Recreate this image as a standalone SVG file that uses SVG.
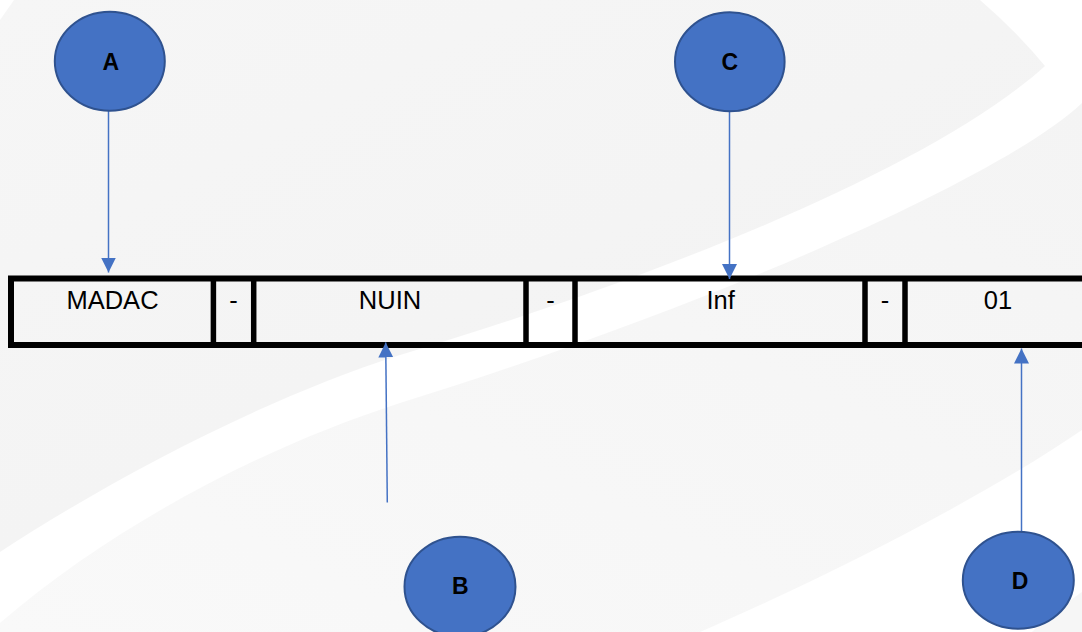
<svg xmlns="http://www.w3.org/2000/svg" width="1082" height="632" viewBox="0 0 1082 632">
  <style>
    .bubble { fill: #4472c4; stroke: #2f528f; stroke-width: 2; }
    .blabel { font-family: "Liberation Sans", Arial, sans-serif; font-weight: bold; font-size: 23px; fill: #000; text-anchor: middle; }
    .cell { font-family: "Liberation Sans", Arial, sans-serif; font-size: 25.5px; fill: #000; text-anchor: middle; }
    .bar { fill: none; stroke: #000; stroke-width: 6; }
    .div { stroke: #000; stroke-width: 5.5; }
    .conn { stroke: #4472c4; stroke-width: 1.5; fill: none; marker-end: url(#arrow); }
  </style>
  <defs>
    <marker id="arrow" markerUnits="userSpaceOnUse" markerWidth="16" markerHeight="16" refX="15" refY="7.5" orient="auto">
      <path d="M0,0 L15,7.5 L0,15 Z" fill="#4472c4"/>
    </marker>
    <linearGradient id="g1" x1="0" y1="0" x2="1" y2="1">
      <stop offset="0" stop-color="#f6f6f6"/>
      <stop offset="1" stop-color="#f2f2f2"/>
    </linearGradient>
    <linearGradient id="g2" x1="0" y1="1" x2="1" y2="0">
      <stop offset="0" stop-color="#f9f9f9"/>
      <stop offset="1" stop-color="#f4f4f4"/>
    </linearGradient>
  </defs>

  <!-- background -->
  <g id="background">
    <rect x="0" y="0" width="1082" height="632" fill="#ffffff"/>
    <path d="M14,0 L980,0 Q1015,30 1045,66 C930,170 650,280 400,355 C260,400 110,480 0,552 L0,20 Z" fill="url(#g1)"/>
    <path d="M1082,103 C1000,180 700,310 400,403 C270,445 120,520 0,623 L0,632 L700,632 C820,580 980,500 1082,430 Z" fill="url(#g2)"/>
    <path d="M1082,592 C1062,606 1046,619 1032,632 L1082,632 Z" fill="#f6f6f6"/>
  </g>

  <!-- code bar -->
  <g id="bar">
    <rect class="bar" x="11" y="278.5" width="1080" height="66.5"/>
    <line class="div" x1="213.4" y1="278" x2="213.4" y2="345"/>
    <line class="div" x1="253.7" y1="278" x2="253.7" y2="345"/>
    <line class="div" x1="526" y1="278" x2="526" y2="345"/>
    <line class="div" x1="575" y1="278" x2="575" y2="345"/>
    <line class="div" x1="865" y1="278" x2="865" y2="345"/>
    <line class="div" x1="905" y1="278" x2="905" y2="345"/>
  </g>
  <g id="cell-madac"><text class="cell" x="112.5" y="309">MADAC</text></g>
  <g id="cell-dash1"><text class="cell" x="233.4" y="309">-</text></g>
  <g id="cell-nuin"><text class="cell" x="390" y="309">NUIN</text></g>
  <g id="cell-dash2"><text class="cell" x="550.5" y="309">-</text></g>
  <g id="cell-inf"><text class="cell" x="720.7" y="309">Inf</text></g>
  <g id="cell-dash3"><text class="cell" x="885" y="309">-</text></g>
  <g id="cell-01"><text class="cell" x="998" y="309">01</text></g>

  <!-- connectors -->
  <g id="connectors">
    <line class="conn" x1="108.5" y1="111" x2="108.5" y2="272.5"/>
    <line class="conn" x1="729.5" y1="112" x2="729.5" y2="279"/>
    <line class="conn" x1="387.3" y1="502.5" x2="385.7" y2="342.5"/>
    <line class="conn" x1="1021.5" y1="532" x2="1021.5" y2="348.5"/>
  </g>

  <!-- bubbles -->
  <g id="node-A">
    <ellipse class="bubble" cx="109.8" cy="61.3" rx="55" ry="49.5"/>
    <text class="blabel" x="110.8" y="69.5">A</text>
  </g>
  <g id="node-C">
    <ellipse class="bubble" cx="729.8" cy="61.8" rx="54.8" ry="49.5"/>
    <text class="blabel" x="729.8" y="69.5">C</text>
  </g>
  <g id="node-B">
    <ellipse class="bubble" cx="460" cy="586.7" rx="55.5" ry="50"/>
    <text class="blabel" x="460.2" y="593.5">B</text>
  </g>
  <g id="node-D">
    <ellipse class="bubble" cx="1018.3" cy="580.3" rx="55.5" ry="48.5"/>
    <text class="blabel" x="1020" y="589">D</text>
  </g>
</svg>
